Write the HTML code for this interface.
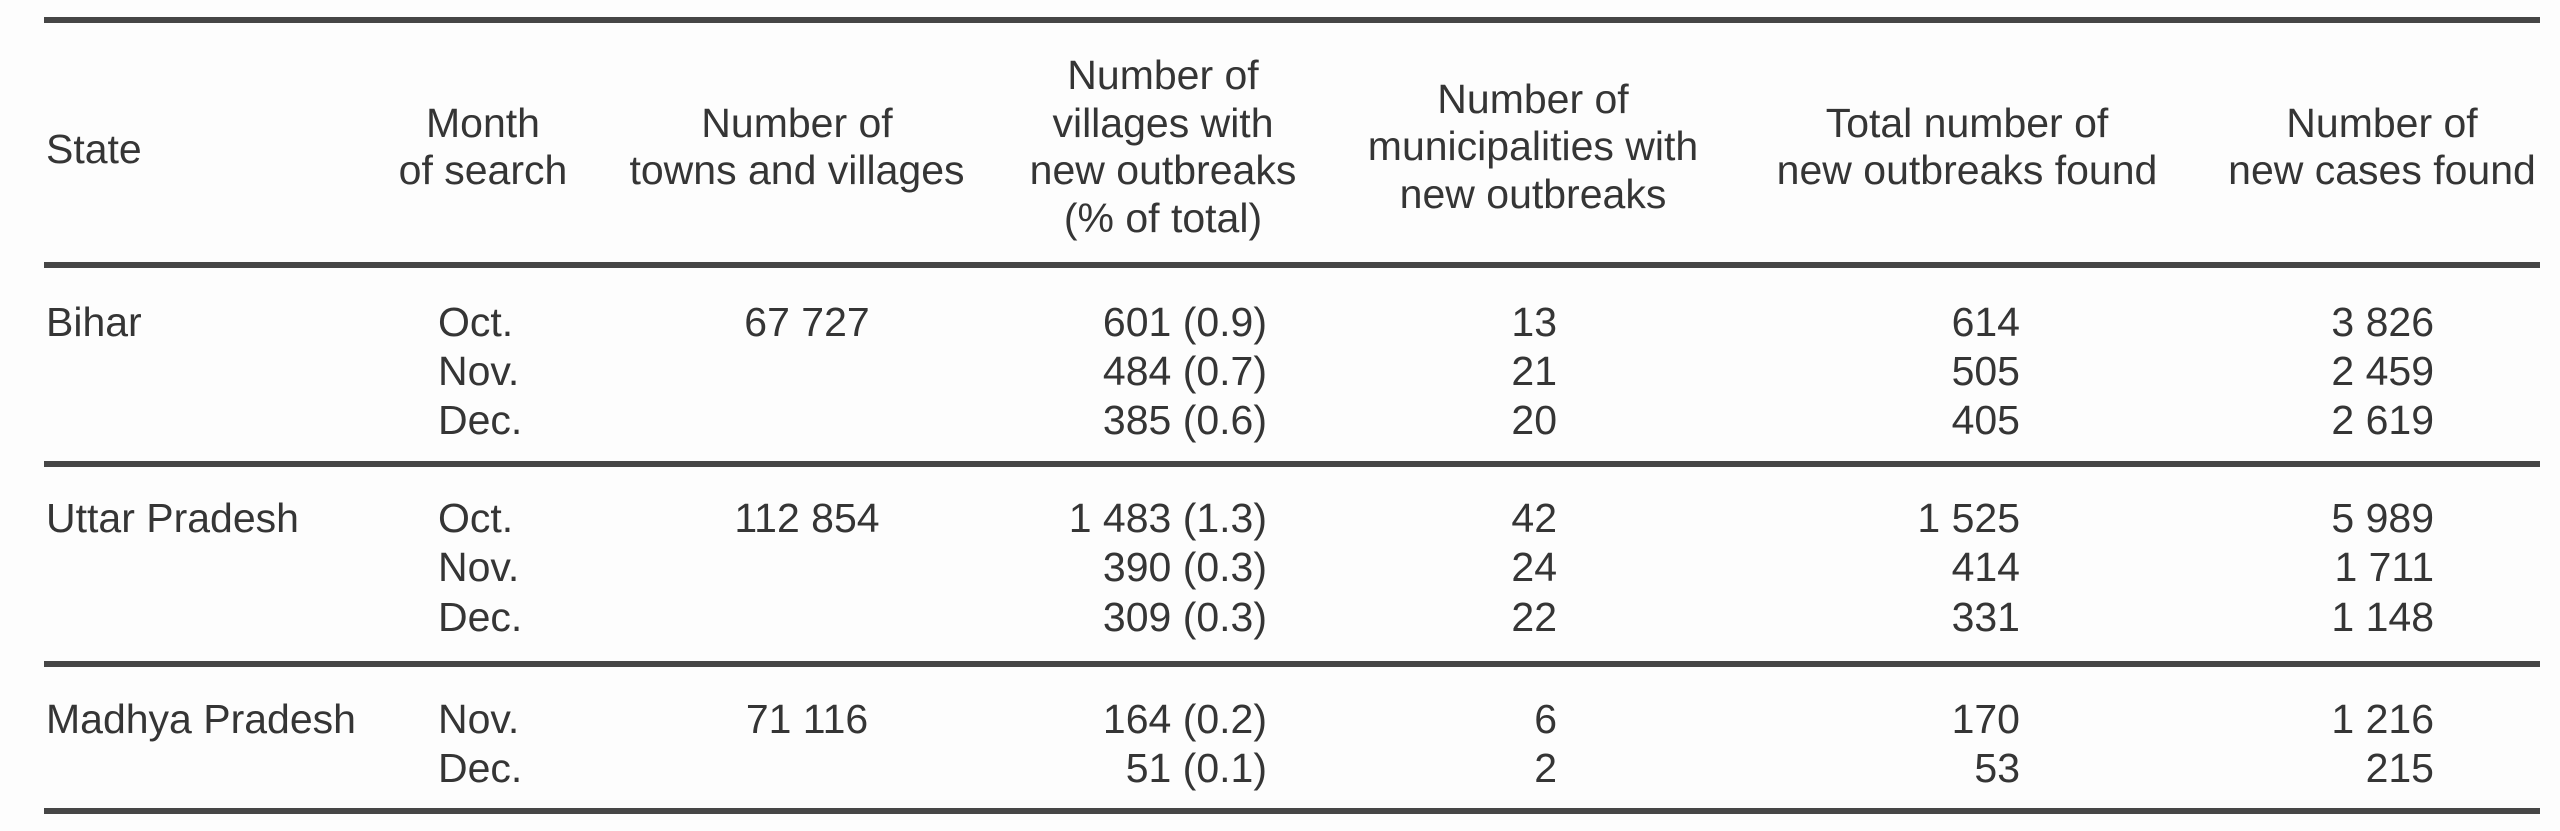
<!DOCTYPE html>
<html><head><meta charset="utf-8"><style>
html,body{margin:0;padding:0;background:#fdfdfd;}
svg{display:block}
text{font-family:"Liberation Sans",sans-serif;font-size:41px;fill:#353535;}
</style></head><body>
<svg width="2560" height="831" viewBox="0 0 2560 831">
<g fill="#464646">
<rect x="44" y="17" width="2496" height="6"/>
<rect x="44" y="262" width="2496" height="6"/>
<rect x="44" y="461" width="2496" height="6"/>
<rect x="44" y="661" width="2496" height="6"/>
<rect x="44" y="808" width="2496" height="6"/>
</g>
<text x="46" y="163">State</text>
<g text-anchor="middle">
<text x="483" y="137">Month</text>
<text x="483" y="184">of search</text>
<text x="797" y="137">Number of</text>
<text x="797" y="184">towns and villages</text>
<text x="1163" y="89">Number of</text>
<text x="1163" y="137">villages with</text>
<text x="1163" y="184">new outbreaks</text>
<text x="1163" y="232">(% of total)</text>
<text x="1533" y="113">Number of</text>
<text x="1533" y="160">municipalities with</text>
<text x="1533" y="208">new outbreaks</text>
<text x="1967" y="137">Total number of</text>
<text x="1967" y="184">new outbreaks found</text>
<text x="2382" y="137">Number of</text>
<text x="2382" y="184">new cases found</text>
</g>
<text x="46" y="336">Bihar</text>
<text x="438" y="336">Oct.</text><text x="438" y="385">Nov.</text><text x="438" y="434">Dec.</text>
<text x="807" y="336" text-anchor="middle">67 727</text>
<g text-anchor="end">
<text x="1267" y="336">601 (0.9)</text><text x="1267" y="385">484 (0.7)</text><text x="1267" y="434">385 (0.6)</text>
<text x="1557" y="336">13</text><text x="1557" y="385">21</text><text x="1557" y="434">20</text>
<text x="2020" y="336">614</text><text x="2020" y="385">505</text><text x="2020" y="434">405</text>
<text x="2434" y="336">3 826</text><text x="2434" y="385">2 459</text><text x="2434" y="434">2 619</text>
</g>
<text x="46" y="532">Uttar Pradesh</text>
<text x="438" y="532">Oct.</text><text x="438" y="581">Nov.</text><text x="438" y="631">Dec.</text>
<text x="807" y="532" text-anchor="middle">112 854</text>
<g text-anchor="end">
<text x="1267" y="532">1 483 (1.3)</text><text x="1267" y="581">390 (0.3)</text><text x="1267" y="631">309 (0.3)</text>
<text x="1557" y="532">42</text><text x="1557" y="581">24</text><text x="1557" y="631">22</text>
<text x="2020" y="532">1 525</text><text x="2020" y="581">414</text><text x="2020" y="631">331</text>
<text x="2434" y="532">5 989</text><text x="2434" y="581">1 711</text><text x="2434" y="631">1 148</text>
</g>
<text x="46" y="733">Madhya Pradesh</text>
<text x="438" y="733">Nov.</text><text x="438" y="782">Dec.</text>
<text x="807" y="733" text-anchor="middle">71 116</text>
<g text-anchor="end">
<text x="1267" y="733">164 (0.2)</text><text x="1267" y="782">51 (0.1)</text>
<text x="1557" y="733">6</text><text x="1557" y="782">2</text>
<text x="2020" y="733">170</text><text x="2020" y="782">53</text>
<text x="2434" y="733">1 216</text><text x="2434" y="782">215</text>
</g>
</svg>
</body></html>
